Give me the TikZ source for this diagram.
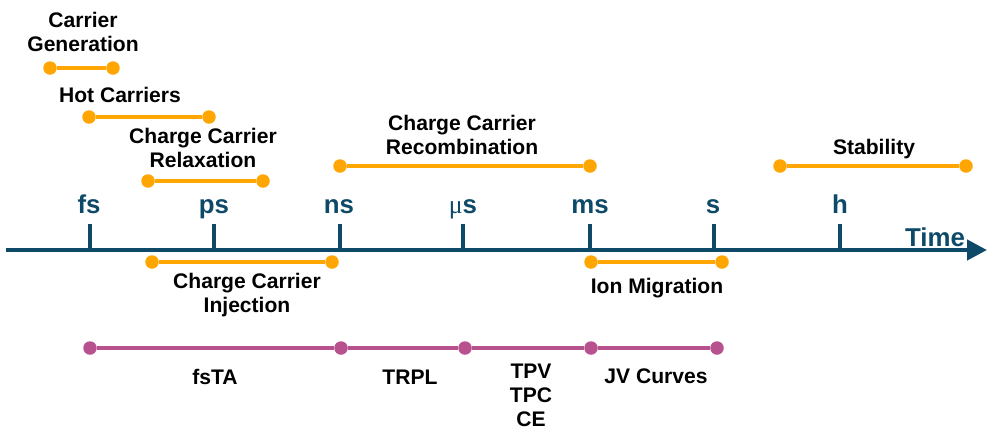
\documentclass[tikz,border=0pt]{standalone}
\usepackage{fontspec}
\setmainfont{Liberation Sans}
\newfontfamily\mufont{Liberation Serif}
\usetikzlibrary{arrows.meta}
\definecolor{barorange}{HTML}{FFA602}
\definecolor{techmag}{HTML}{B8528F}
\definecolor{axisblue}{HTML}{0E4A68}
\tikzset{
  bar/.style={line width=2.8pt, draw=barorange},
  mbar/.style={line width=2.8pt, draw=techmag},
  odot/.style={circle, fill=barorange, inner sep=0pt, minimum size=0.27cm},
  mdot/.style={circle, fill=techmag, inner sep=0pt, minimum size=0.27cm},
  lbl/.style={font=\fontsize{12}{13.6}\selectfont\bfseries, inner sep=0pt, align=center},
  tlbl/.style={font=\fontsize{14.7}{17}\selectfont\bfseries, text=axisblue, anchor=base, inner sep=0pt},
  axisline/.style={line width=2.5pt, draw=axisblue},
  tickline/.style={line width=2.6pt, draw=axisblue}
}
\begin{document}
\begin{tikzpicture}[x=0.02cm,y=-0.02cm]
\useasboundingbox (0,0) rectangle (987,430);
% axis
\coordinate (axL) at (6,250);
\coordinate (axR) at (987,250);
\draw[axisline, -{Triangle[length=0.4cm,width=0.4cm]}] (axL) -- (axR);
% ticks
\foreach \n/\x in {fs/90, ps/214, ns/340, us/463, ms/590, s/714, h/840}{
  \coordinate (t\n) at (\x,250);
  \coordinate (tt\n) at (\x,224);
  \draw[tickline] (t\n) -- (tt\n);
}
\node[tlbl] (lfs) at (89,213) {fs};
\node[tlbl] (lps) at (214,213) {ps};
\node[tlbl] (lns) at (339,213) {ns};
\node[tlbl] (lus) at (463,213) {{\mufont\mdseries μ}s};
\node[tlbl] (lms) at (590,213) {ms};
\node[tlbl] (ls) at (713,213) {s};
\node[tlbl] (lh) at (840,213) {h};
\node[tlbl] (ltime) at (935,246) {Time};
% orange bars
\node[odot] (cg1) at (50,68) {};
\node[odot] (cg2) at (113,68) {};
\draw[bar] (cg1) -- (cg2);
\node[lbl] (cgl) at (83,32) {Carrier\\Generation};

\node[odot] (hc1) at (89,117) {};
\node[odot] (hc2) at (209,117) {};
\draw[bar] (hc1) -- (hc2);
\node[lbl, anchor=base] (hcl) at (120,102) {Hot Carriers};

\node[odot] (rx1) at (148,181) {};
\node[odot] (rx2) at (263,181) {};
\draw[bar] (rx1) -- (rx2);
\node[lbl] (rxl) at (203,148) {Charge Carrier\\Relaxation};

\node[odot] (rc1) at (340,166) {};
\node[odot] (rc2) at (590,166) {};
\draw[bar] (rc1) -- (rc2);
\node[lbl] (rcl) at (462,135) {Charge Carrier\\Recombination};

\node[odot] (st1) at (780,166) {};
\node[odot] (st2) at (966,166) {};
\draw[bar] (st1) -- (st2);
\node[lbl, anchor=base] (stl) at (874,154) {Stability};

\node[odot] (in1) at (152,262) {};
\node[odot] (in2) at (332,262) {};
\draw[bar] (in1) -- (in2);
\node[lbl] (inl) at (247,295) {Charge Carrier\\Injection};

\node[odot] (im1) at (591,262) {};
\node[odot] (im2) at (722,262) {};
\draw[bar] (im1) -- (im2);
\node[lbl, anchor=base] (iml) at (657,293) {Ion Migration};

% techniques
\node[mdot] (m1) at (90,348) {};
\node[mdot] (m2) at (341,348) {};
\node[mdot] (m3) at (465,348) {};
\node[mdot] (m4) at (591,348) {};
\node[mdot] (m5) at (717,348) {};
\draw[mbar] (m1) -- (m2);
\draw[mbar] (m2) -- (m3);
\draw[mbar] (m3) -- (m4);
\draw[mbar] (m4) -- (m5);
\node[lbl, anchor=base] (fsta) at (215,384) {fsTA};
\node[lbl, anchor=base] (trpl) at (410,384) {TRPL};
\node[lbl] (tpv) at (531,395) {TPV\\TPC\\CE};
\node[lbl, anchor=base] (jv) at (656,383) {JV Curves};
\end{tikzpicture}
\end{document}
